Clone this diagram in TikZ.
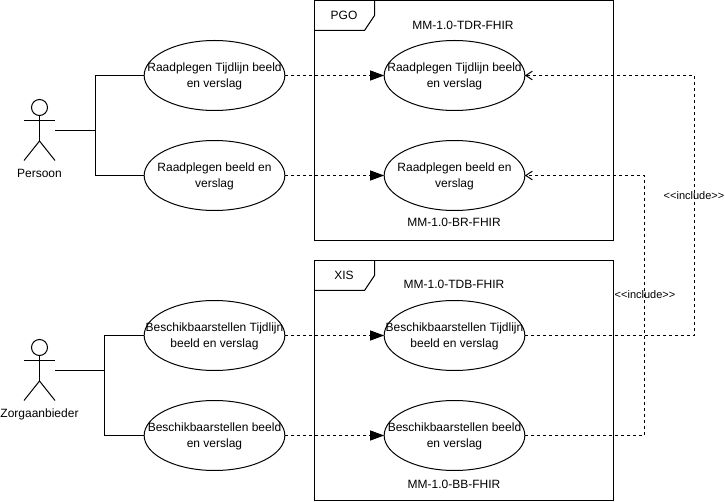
\documentclass[tikz,border=0pt]{standalone}
\usepackage{fontspec}
\setmainfont{Liberation Sans}
\usetikzlibrary{arrows.meta,positioning,calc,shapes.geometric}

\begin{document}
\begin{tikzpicture}[
  x=0.75pt,
  y=-0.75pt,
  line width=0.75pt,
  font=\fontsize{9}{12}\selectfont,
  every node/.style={outer sep=0pt},
  usecase/.style={
    ellipse,
    draw=black,
    minimum width=105.5pt,
    minimum height=52.5pt,
    inner sep=0pt
  },
  casetext/.style={align=center, inner sep=0pt, yshift=-0.75pt},
  frame/.style={
    draw=black,
    minimum width=224.6pt,
    minimum height=180pt,
    anchor=north west,
    inner sep=0pt
  },
  actorbox/.style={minimum width=23.25pt, minimum height=6pt, inner sep=0pt},
  assoc/.style={draw=black},
  flow/.style={->, >={Triangle[length=10.5pt,width=7.5pt]}, dash pattern=on 2.25pt off 2.25pt},
  incl/.style={->, >={Straight Barb[length=5pt,width=6.5pt]}, dash pattern=on 2.25pt off 2.25pt},
  tag/.style={font=\fontsize{8.25}{10}\selectfont, inner sep=0pt}
]

% canvas
\useasboundingbox (0,0) rectangle (725,502);

% Frames
\node[frame] (pgo) at (314.5,0.5) {};
\node[frame] (xis) at (314.5,260.5) {};
\foreach \grp in {pgo,xis} {
  \draw ($(\grp.north west)+(60,0)$) -- ++(0,15) -- ++(-10,15) -- ++(-50,0);
}
\node (pgotitle) at (344,15) {PGO};
\node (xistitle) at (344,275) {XIS};

% Profile names
\node (tdr) at (463,25) {MM-1.0-TDR-FHIR};
\node (br) at (454,222) {MM-1.0-BR-FHIR};
\node (tdb) at (454,284.5) {MM-1.0-TDB-FHIR};
\node (bb) at (454,484.5) {MM-1.0-BB-FHIR};

% Actors
\node[actorbox] (persoon) at (39.5,130.5) {};
\node[actorbox] (zorg) at (39.5,370.5) {};
\foreach \who in {persoon,zorg} {
  \draw ($(\who.center)+(0,-23)$) circle[radius=6pt];
  \draw ($(\who.center)+(0,-15)$) -- ($(\who.center)+(0,10.5)$);
  \draw ($(\who.center)+(-15.5,-10)$) -- ($(\who.center)+(15.5,-10)$);
  \draw ($(\who.center)+(-15.5,30)$) -- ($(\who.center)+(0,10.5)$) -- ($(\who.center)+(15.5,30)$);
}
\node (persoontext) at (39.5,173.5) {Persoon};
\node (zorgtext) at (39.5,414) {Zorgaanbieder};

% Left use cases
\node[usecase, label={[casetext]center:{Raadplegen Tijdlijn beeld\\en verslag}}] (raadtijd) at (214.5,75.5) {};
\node[usecase, label={[casetext]center:{Raadplegen beeld en\\verslag}}] (raadbeeld) at (214.5,175.5) {};
\node[usecase, label={[casetext]center:{Beschikbaarstellen Tijdlijn\\beeld en verslag}}] (bestijd) at (214.5,335.5) {};
\node[usecase, label={[casetext]center:{Beschikbaarstellen beeld\\en verslag}}] (besbeeld) at (214.5,435.5) {};

% Right use cases
\node[usecase, label={[casetext]center:{Raadplegen Tijdlijn beeld\\en verslag}}] (tdrtijd) at (454.5,75.5) {};
\node[usecase, label={[casetext]center:{Raadplegen beeld en\\verslag}}] (brbeeld) at (454.5,175.5) {};
\node[usecase, label={[casetext]center:{Beschikbaarstellen Tijdlijn\\beeld en verslag}}] (tdbtijd) at (454.5,335.5) {};
\node[usecase, label={[casetext]center:{Beschikbaarstellen beeld\\en verslag}}] (bbbeeld) at (454.5,435.5) {};

% Actor lines
\draw[assoc] (persoon.east) -- ++(40,0) |- (raadtijd.west);
\draw[assoc] (persoon.east) -- ++(40,0) |- (raadbeeld.west);
\draw[assoc] (zorg.east) -- ++(49.5,0) |- (bestijd.west);
\draw[assoc] (zorg.east) -- ++(49.5,0) |- (besbeeld.west);

% Flows
\draw[flow] (raadtijd.east) -- (tdrtijd.west);
\draw[flow] (raadbeeld.east) -- (brbeeld.west);
\draw[flow] (bestijd.east) -- (tdbtijd.west);
\draw[flow] (besbeeld.east) -- (bbbeeld.west);

% Includes
\draw[incl] (tdbtijd.east) -- ++(169.5,0) |- (tdrtijd.east);
\draw[incl] (bbbeeld.east) -- ++(119.5,0) |- (brbeeld.east);
\node[tag] (inclone) at (694,196) {<{}<include>{}>};
\node[tag] (incltwo) at (645,295) {<{}<include>{}>};

\end{tikzpicture}
\end{document}
